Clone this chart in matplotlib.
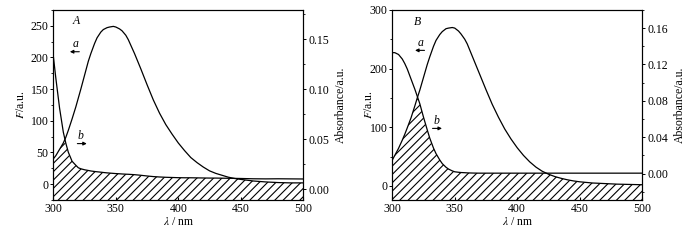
# -*- coding: utf-8 -*-
"""
Fluorescence emission (a) vs absorbance (b) overlap, panels A and B
"""

import numpy as np
import matplotlib
matplotlib.use("Agg")
import matplotlib.pyplot as plt
from matplotlib.ticker import MultipleLocator, FormatStrFormatter

plt.rcParams["font.family"] = ["Liberation Serif", "DejaVu Serif"]
plt.rcParams["mathtext.fontset"] = "stix"
plt.rcParams["font.size"] = 8.5
plt.rcParams["hatch.linewidth"] = 0.8

# data
wavelength = [300, 302, 305, 308, 310, 312, 315, 318, 320, 322, 325, 328,
              330, 333, 335, 338, 340, 343, 345, 348, 350, 353, 355, 358,
              360, 365, 370, 375, 380, 385, 390, 395, 400, 405, 410, 415,
              420, 425, 430, 435, 440, 445, 450, 460, 470, 480, 490, 500]

fluor_A = [40, 45, 55, 65, 74, 85, 103, 122, 136, 150, 172, 194,
           206, 222, 231, 240, 244, 247, 248, 249, 248, 245, 242, 235,
           228, 206, 182, 157, 133, 112, 94, 79, 65, 53, 42, 34,
           27, 21, 17, 14, 11, 9, 7.5, 5, 3.5, 2.5, 2, 2]
absorb_A = [0.133, 0.111, 0.081, 0.057, 0.046, 0.037, 0.028, 0.024, 0.0215,
            0.0205, 0.0195, 0.0188, 0.0183, 0.0178, 0.0175, 0.0171, 0.0168,
            0.0164, 0.0162, 0.0159, 0.0157, 0.0155, 0.0153, 0.0151, 0.0150,
            0.0146, 0.0140, 0.0133, 0.0127, 0.0123, 0.0120, 0.0118, 0.0116,
            0.0115, 0.0115, 0.0114, 0.0113, 0.0112, 0.0112, 0.0111, 0.0110,
            0.0109, 0.0108, 0.0105, 0.0104, 0.0105, 0.0104, 0.0103]

fluor_B = [44, 52, 64, 78, 88, 99, 116, 136, 150, 163, 185, 207,
           220, 238, 248, 258, 263, 268, 269, 270, 269, 264, 259, 250,
           242, 216, 190, 164, 139, 117, 97, 80, 65, 52, 41, 32,
           25, 20, 16, 13, 10.5, 8.5, 7, 5, 4, 3, 2.5, 2]
absorb_B = [0.133, 0.133, 0.131, 0.126, 0.121, 0.115, 0.104, 0.093, 0.085,
            0.077, 0.062, 0.048, 0.039, 0.028, 0.022, 0.015, 0.011, 0.007,
            0.005, 0.003, 0.002, 0.0015, 0.0012, 0.0010, 0.0008, 0.0006,
            0.0005, 0.0005, 0.0005, 0.0005, 0.0005, 0.0005, 0.0005, 0.0005,
            0.0005, 0.0005, 0.0005, 0.0005, 0.0005, 0.0005, 0.0005, 0.0005,
            0.0005, 0.0005, 0.0005, 0.0005, 0.0005, 0.0005]


def draw_panel(fig, left, name, fluor, absorb, f_lim, f_step, a_lim, a_step,
               name_pos, a_pos, b_pos, ylab_x):
    x = np.array(wavelength)
    fluor = np.array(fluor)
    absorb = np.array(absorb)

    ax = fig.add_axes([left, 0.1667, 0.357, 0.792])
    ax2 = ax.twinx()
    ax.set_xlim(300, 500)
    ax.set_ylim(f_lim)
    ax2.set_ylim(a_lim)

    # put absorbance on the fluorescence scale to hatch the overlap
    lo1, hi1 = f_lim
    lo2, hi2 = a_lim
    abs_on_f = lo1 + (absorb - lo2) / (hi2 - lo2) * (hi1 - lo1)
    ax.fill_between(x, lo1, np.minimum(fluor, abs_on_f), facecolor="none",
                    edgecolor="k", hatch="////", linewidth=0)

    ax.plot(x, fluor, color="k", lw=0.9)
    ax2.plot(x, absorb, color="k", lw=0.9)

    ax.xaxis.set_major_locator(MultipleLocator(50))
    ax.yaxis.set_major_locator(MultipleLocator(f_step))
    ax.yaxis.set_minor_locator(MultipleLocator(f_step / 2))
    ax2.yaxis.set_major_locator(MultipleLocator(a_step))
    ax2.yaxis.set_minor_locator(MultipleLocator(a_step / 2))
    ax2.yaxis.set_major_formatter(FormatStrFormatter("%.2f"))

    ax.tick_params(axis="x", direction="in", length=2, pad=2)
    ax.tick_params(axis="y", which="major", length=2.5, width=0.7, pad=1)
    ax.tick_params(axis="y", which="minor", length=1.5, width=0.6)
    ax2.tick_params(axis="y", which="major", length=2.5, width=0.7, pad=1)
    ax2.tick_params(axis="y", which="minor", length=1.5, width=0.6)
    for a in (ax, ax2):
        for s in a.spines.values():
            s.set_linewidth(0.8)

    ax.set_xlabel(r"$\lambda$ / nm", labelpad=1)
    ax.set_ylabel(r"$F$/a.u.")
    ax.yaxis.set_label_coords(ylab_x, 0.5)
    ax2.set_ylabel("Absorbance/a.u.")
    ax2.yaxis.set_label_coords(1.125, 0.5)

    ax.text(name_pos[0], name_pos[1], name, style="italic", ha="center",
            va="center")
    ax.text(a_pos[0], a_pos[1], "a", style="italic", ha="center",
            va="center")
    ax.text(b_pos[0], b_pos[1], "b", style="italic", ha="center",
            va="center")
    arrow = dict(arrowstyle="-|>", lw=0.8, color="k", mutation_scale=5)
    span = (hi1 - lo1) * 0.04
    ax.annotate("", xy=(a_pos[0] - 7, a_pos[1] - span),
                xytext=(a_pos[0] + 5, a_pos[1] - span), arrowprops=arrow)
    ax.annotate("", xy=(b_pos[0] + 7, b_pos[1] - span),
                xytext=(b_pos[0] - 5, b_pos[1] - span), arrowprops=arrow)


fig = plt.figure(figsize=(7, 2.4), dpi=100)
draw_panel(fig, 0.0762, "A", fluor_A, absorb_A, (-25, 275), 50,
           (-0.0107, 0.1793), 0.05, (318, 257), (318, 221), (322, 76), -0.105)
draw_panel(fig, 0.5604, "B", fluor_B, absorb_B, (-24, 300), 100,
           (-0.029, 0.18), 0.04, (320, 280), (323, 244), (335, 111), -0.068)
fig.savefig("out.png", dpi=100)
